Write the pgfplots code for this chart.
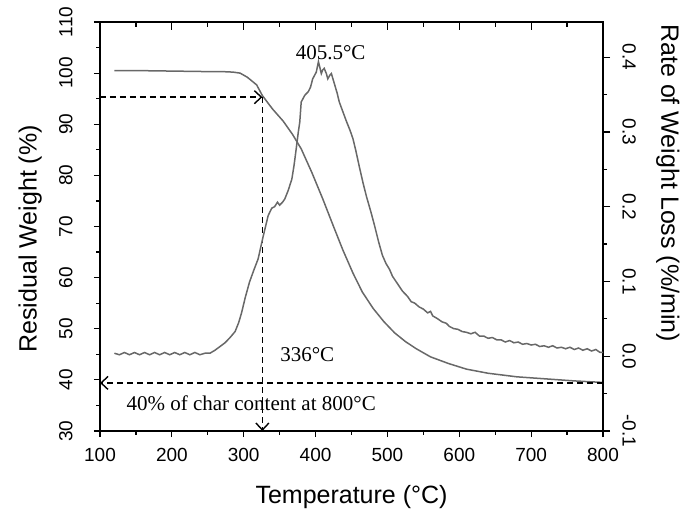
\documentclass[border=0pt]{standalone}
\usepackage{fontspec}
\setmainfont{Liberation Sans}
\newfontfamily\serif{Liberation Serif}
\usepackage{pgfplots}
\pgfplotsset{compat=1.18}
\usetikzlibrary{arrows.meta}

\definecolor{curvegray}{RGB}{104,104,104}

\pgfplotsset{
  common/.style={
    at={(0,0)}, anchor=south west,
    scale only axis, width=503pt, height=409pt,
    xmin=100, xmax=800,
    /pgf/number format/assume math mode=true,
    ticklabel style={font=\fontsize{19}{22}\selectfont},
    label style={font=\fontsize{25}{28}\selectfont},
    axis line style={line width=1.4pt},
    tick style={line width=1.2pt, black},
  },
}

\begin{document}
\begin{tikzpicture}
\path[use as bounding box] (-100pt,-81pt) rectangle (590pt,431pt);

% left axis: residual weight (TG)
\begin{axis}[common,
    ymin=30, ymax=110,
    xtick={100,200,...,800}, ytick={30,40,...,110},
    minor x tick num=1, minor y tick num=1,
    xtick pos=left, ytick pos=left,
    tick align=outside,
    major tick length=6pt, minor tick length=3.5pt,
    yticklabel style={rotate=90, anchor=south, yshift=18pt},
    xticklabel style={yshift=-8pt},
    xlabel={Temperature (°C)},
    ylabel={Residual Weight (\%)},
    xlabel style={at={(axis description cs:0.5,-0.161)}, anchor=center},
    ylabel style={at={(axis description cs:-0.139,0.47)}, anchor=center},
]
\addplot[curvegray, line width=1.5pt] coordinates {
(120,100.5) (150,100.5) (200,100.4) (250,100.3) (270,100.3) (285,100.2)
(295,100.0) (305,99.2) (318,97.7) (326,95.6) (340,93.0) (355,90.6)
(368,88.0) (380,85.2) (395,80.5) (410,75.4) (425,70.0) (438,65.4)
(452,60.9) (465,57.2) (480,54.0) (495,51.4) (510,49.2) (525,47.5)
(540,46.1) (560,44.5) (585,43.2) (610,42.1) (640,41.3) (680,40.6)
(720,40.2) (760,39.8) (800,39.5)
};
% dashed guide arrows
\addplot[black, line width=1.4pt, dash pattern=on 6pt off 4pt,
  -{Straight Barb[length=7pt,width=13pt]}] coordinates {(100,95.3) (326,95.3)};
\addplot[black, line width=1.4pt, dash pattern=on 6pt off 4pt,
  -{Straight Barb[length=7pt,width=13pt]}] coordinates {(326,95.3) (326,30)};
\addplot[black, line width=1.4pt, dash pattern=on 6pt off 4pt,
  -{Straight Barb[length=7pt,width=13pt]}] coordinates {(800,39.4) (100,39.4)};

\node[font=\serif\fontsize{21}{24}\selectfont] at (axis cs:421,104) {405.5°C};
\node[font=\serif\fontsize{21}{24}\selectfont, anchor=west] at (axis cs:346,44.9) {336°C};
\node[font=\serif\fontsize{21}{24}\selectfont, anchor=west] at (axis cs:132,35.5) {40\% of char content at 800°C};
\end{axis}

% right axis: rate of weight loss (DTG)
\begin{axis}[common,
    ymin=-0.1, ymax=0.447,
    axis x line=none, axis y line*=right,
    ytick={-0.1,0,0.1,0.2,0.3,0.4},
    yticklabels={-0.1,0.0,0.1,0.2,0.3,0.4},
    minor y tick num=1,
    tick align=outside,
    major tick length=7pt, minor tick length=4pt,
    yticklabel style={rotate=-90, anchor=south, yshift=9pt},
    ylabel={Rate of Weight Loss (\%/min)},
    ylabel style={at={(axis description cs:1.129,0.606)}, rotate=180, anchor=center},
]
\addplot[curvegray, line width=1.5pt] coordinates {
(120,0.004) (127,0.002) (134,0.005) (141,0.002) (148,0.005) (155,0.002)
(162,0.005) (169,0.002) (176,0.005) (183,0.002) (190,0.005) (197,0.002)
(204,0.005) (211,0.002) (218,0.005) (225,0.002) (232,0.005) (239,0.002)
(246,0.004) (253,0.004) (260,0.008) (267,0.013) (274,0.018) (281,0.025)
(288,0.033) (293,0.045) (297,0.058) (302,0.078) (308,0.099) (314,0.115)
(320,0.130) (327,0.160) (334,0.188) (339,0.198) (343,0.200) (347,0.206)
(350,0.202) (354,0.206) (357,0.210) (362,0.222) (367,0.237) (370,0.255)
(373,0.277) (376,0.300) (378,0.313) (380,0.340) (385,0.349) (390,0.354)
(393,0.360) (396,0.371) (401,0.380) (404,0.394) (406,0.386) (408,0.378)
(410,0.383) (412,0.385) (415,0.378) (417,0.371) (420,0.376) (422,0.378)
(426,0.365) (430,0.352) (433,0.340) (438,0.327) (443,0.314) (448,0.302)
(452,0.291) (456,0.275) (461,0.253) (466,0.232) (471,0.213) (477,0.193)
(482,0.175) (488,0.152) (493,0.135) (498,0.124) (503,0.116) (507,0.107)
(514,0.097) (521,0.087) (528,0.080) (533,0.073) (538,0.071) (544,0.066)
(550,0.063) (556,0.058) (560,0.060) (563,0.054) (570,0.050) (576,0.046)
(582,0.044) (586,0.040) (592,0.037) (598,0.036) (604,0.033) (610,0.032)
(616,0.030) (622,0.032) (628,0.027) (634,0.027) (640,0.024) (646,0.025)
(652,0.022) (658,0.022) (664,0.019) (670,0.021) (676,0.018) (682,0.019)
(688,0.016) (694,0.017) (700,0.015) (706,0.016) (712,0.013) (718,0.014)
(724,0.012) (730,0.014) (736,0.011) (742,0.012) (748,0.010) (754,0.012)
(760,0.009) (766,0.011) (772,0.008) (778,0.010) (784,0.007) (790,0.009)
(796,0.005) (800,0.005)
};
\end{axis}

% top ticks pointing inward
\begin{axis}[common,
    ymin=0, ymax=1,
    axis y line=none, axis x line*=top,
    xtick={100,200,...,800}, minor x tick num=1,
    xticklabels={},
    tick align=inside,
    major tick length=8pt, minor tick length=5pt,
]
\end{axis}
\end{tikzpicture}
\end{document}
